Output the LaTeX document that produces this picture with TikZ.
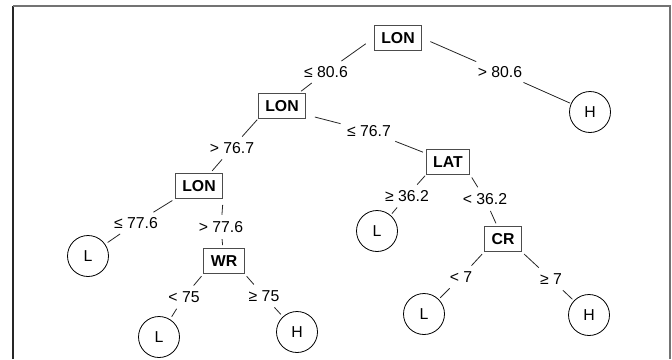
\documentclass[tikz,border=0pt]{standalone}
\usepackage{fontspec}
\setmainfont{Liberation Sans}
\begin{document}
\begin{tikzpicture}[x=1pt,y=-1pt,
  every node/.style={font=\fontsize{15.8}{18}\selectfont},
  split/.style={draw=black!70, line width=0.9pt, fill=white, font=\fontsize{15.8}{18}\selectfont\bfseries,
    minimum height=25pt, inner xsep=7pt, inner ysep=0pt},
  leaf/.style={draw=black, line width=0.8pt, circle, minimum size=41pt, inner sep=0pt},
  cond/.style={inner sep=3.5pt, text height=11pt, text depth=0pt},
  seg/.style={draw=black!85, line width=0.8pt, shorten <=3pt, shorten >=3pt},
  frameline/.style={line width=1.4pt}
]
\useasboundingbox (0,0) rectangle (672,359);

% outer frame, open at the bottom
\draw[frameline, black!85] (13,359) -- (13,6);
\draw[frameline, black!55] (13,6) -- (670,6) -- (670,359);

% split nodes
\node[split] (root) at (398,38) {LON};
\node[split] (lon2) at (282,106) {LON};
\node[split] (lon3) at (199,186) {LON};
\node[split] (wr)   at (224,261) {WR};
\node[split] (lat)  at (448,162) {LAT};
\node[split] (cr)   at (503,239) {CR};

% leaves
\node[leaf] (h1) at (590,112) {H};
\node[leaf] (l1) at (88,256)  {L};
\node[leaf] (l2) at (159,337) {L};
\node[leaf] (h2) at (297,332) {H};
\node[leaf] (l3) at (377,231) {L};
\node[leaf] (l4) at (424,314) {L};
\node[leaf] (h3) at (589,315) {H};

% branch conditions
\node[cond] (c1)  at (326,72)  {≤ 80.6};
\node[cond] (c2)  at (500,72)  {> 80.6};
\node[cond] (c3)  at (369,131) {≤ 76.7};
\node[cond] (c4)  at (232,148) {> 76.7};
\node[cond] (c5)  at (136,223) {≤ 77.6};
\node[cond] (c6)  at (221,227) {> 77.6};
\node[cond] (c7)  at (184,297) {< 75};
\node[cond] (c8)  at (264,296) {≥ 75};
\node[cond] (c9)  at (407,196) {≥ 36.2};
\node[cond] (c10) at (485,199) {< 36.2};
\node[cond] (c11) at (461,277) {< 7};
\node[cond] (c12) at (551,279) {≥ 7};

% branches: parent -> condition -> child
\draw[seg, shorten <=10pt] (root.west) -- (c1);
\draw[seg] (c1) -- (lon2);
\draw[seg, shorten <=9pt] (root.east) -- (c2);
\draw[seg, shorten >=1pt] (c2) -- (h1);

\draw[seg, shorten <=9pt] (lon2.-20) -- (c3);
\draw[seg] (c3) -- (lat);
\draw[seg, shorten <=1pt] (lon2.south west) -- (c4);
\draw[seg] (c4) -- (lon3);

\draw[seg] (lon3.south west) -- (c5);
\draw[seg] (c5) -- (l1);
\draw[seg, shorten <=6pt] (lon3.south east) -- (c6);
\draw[seg] (c6) -- (wr);

\draw[seg] (wr.south west) -- (c7);
\draw[seg] (c7) -- (l2);
\draw[seg] (wr.south east) -- (c8);
\draw[seg] (c8) -- (h2);

\draw[seg, shorten <=1pt] (lat.south west) -- (c9);
\draw[seg, shorten >=2pt] (c9) -- (l3);
\draw[seg] (lat.south east) -- (c10);
\draw[seg] (c10) -- (cr);

\draw[seg] (cr.south west) -- (c11);
\draw[seg, shorten >=2pt] (c11) -- (l4);
\draw[seg] (cr.south east) -- (c12);
\draw[seg, shorten >=2pt] (c12) -- (h3);
\end{tikzpicture}
\end{document}
